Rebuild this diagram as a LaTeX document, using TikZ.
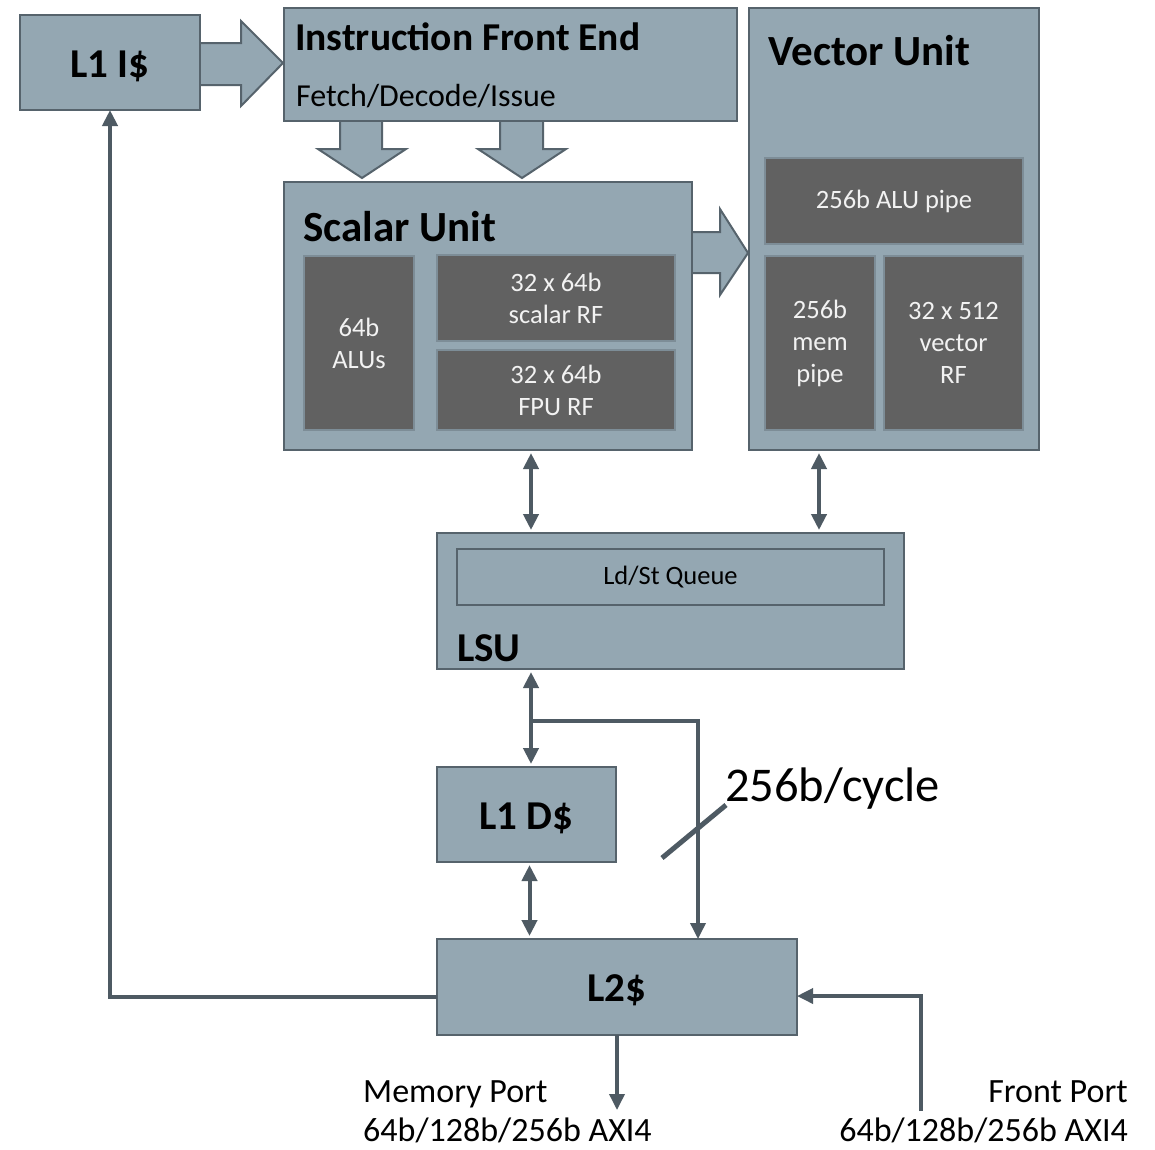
\documentclass[tikz,border=0pt]{standalone}
\usepackage{fontspec}
\setmainfont{Carlito}
\usetikzlibrary{arrows.meta,calc}
\definecolor{boxfill}{HTML}{94A7B2}
\definecolor{boxline}{HTML}{56636C}
\definecolor{darkfill}{HTML}{616161}
\definecolor{darkline}{HTML}{7D8D97}
\definecolor{wire}{HTML}{4E5A63}
\definecolor{lighttext}{HTML}{F2F2F2}
\begin{document}
\begin{tikzpicture}[x=1pt,y=-1pt,
  box/.style={draw=boxline, fill=boxfill, line width=2pt, inner sep=0pt, outer sep=0pt, anchor=north west},
  dbox/.style={draw=darkline, fill=darkfill, line width=2pt, inner sep=0pt, outer sep=0pt, anchor=north west, text=lighttext, align=center, font=\fontsize{26.5}{32}\selectfont},
  boldlbl/.style={font=\fontsize{41}{48}\selectfont\bfseries},
  title/.style={inner sep=0pt, anchor=base west, font=\fontsize{43}{50}\selectfont\bfseries},
  plain/.style={inner sep=0pt, font=\fontsize{34}{40}\selectfont},
  barrow/.style={draw=boxline, fill=boxfill, line width=2pt, line join=miter},
  wirearrow/.style={draw=wire, line width=4pt, -{Triangle[length=16pt,width=15pt]}},
  dbl/.style={draw=wire, line width=4pt, {Triangle[length=16pt,width=15pt]}-{Triangle[length=16pt,width=15pt]}, shorten <=3pt, shorten >=3pt},
]
\useasboundingbox (0,0) rectangle (1155,1149);
\fill[white] (0,0) rectangle (1155,1149);

% block arrows (drawn first, boxes overlap their bases)
\draw[barrow] (198,43) -- (241,43) -- (241,21) -- (283,63) -- (241,106) -- (241,85) -- (198,85) -- cycle;
\draw[barrow] (340,119) -- (340,149) -- (318,149) -- (362,178) -- (406,149) -- (382,149) -- (382,119) -- cycle;
\draw[barrow] (500,119) -- (500,149) -- (478,149) -- (522,178) -- (566,149) -- (543,149) -- (543,119) -- cycle;
\draw[barrow] (690,232) -- (720,232) -- (720,209) -- (748,253) -- (720,295) -- (720,273) -- (690,273) -- cycle;

% main boxes
\node[box, boldlbl, minimum width=180pt, minimum height=95pt, text height=29pt, text depth=0pt] (l1i) at (20,15) {L1 I\$};
\node[box, minimum width=453pt, minimum height=113pt] (ife) at (284,8) {};
\node[box, minimum width=290pt, minimum height=442pt] (vec) at (749,8) {};
\node[box, minimum width=408pt, minimum height=268pt] (sca) at (284,182) {};

\node[title, font=\fontsize{39.5}{46}\selectfont\bfseries] (ifeT) at (295,50) {Instruction Front End};
\node[plain, anchor=base west, font=\fontsize{32}{38}\selectfont] (ifeS) at (296,106) {Fetch/Decode/Issue};
\node[title] (vecT) at (768,65) {Vector Unit};
\node[title] (scaT) at (303,241) {Scalar Unit};

% inner dark boxes
\node[dbox, minimum width=258pt, minimum height=86pt] (alu256) at (765,158) {256b ALU pipe};
\node[dbox, minimum width=110pt, minimum height=174pt] (mem256) at (765,256) {256b\\mem\\pipe};
\node[dbox, minimum width=139pt, minimum height=174pt] (vrf) at (884,256) {32 x 512\\vector\\RF};
\node[dbox, minimum width=110pt, minimum height=174pt] (alu64) at (304,256) {64b\\ALUs};
\node[dbox, minimum width=238pt, minimum height=86pt] (srf) at (437,255) {32 x 64b\\scalar RF};
\node[dbox, minimum width=238pt, minimum height=80pt] (frf) at (437,350) {32 x 64b\\FPU RF};

% LSU
\node[box, minimum width=467pt, minimum height=136pt] (lsu) at (437,533) {};
\node[box, minimum width=427pt, minimum height=56pt, font=\fontsize{26.5}{32}\selectfont] (ldst) at (457,549) {Ld/St Queue};
\node[title, font=\fontsize{41}{48}\selectfont\bfseries] (lsuT) at (457,661) {LSU};

% caches
\node[box, boldlbl, minimum width=179pt, minimum height=95pt, text height=29pt, text depth=0pt] (l1d) at (437,767) {L1 D\$};
\node[box, boldlbl, minimum width=360pt, minimum height=96pt, text height=29pt, text depth=0pt] (l2) at (437,939) {L2\$};

% helper coordinates
\coordinate (cx1) at (531,0);
\coordinate (cx2) at (819,0);
\coordinate (cx3) at (698,0);
\coordinate (br) at (531,721);
\coordinate (fby) at (0,997);
\coordinate (fpy) at (0,996);
\coordinate (mp) at (617,1110);
\coordinate (fp) at (921,1111);

% connectors
\draw[dbl] (sca.south -| cx1) -- (lsu.north -| cx1);
\draw[dbl] (vec.south -| cx2) -- (lsu.north -| cx2);
\draw[dbl] (lsu.south -| cx1) -- (l1d.north -| cx1);
\draw[dbl] ($(l1d.south)+(3,0)$) -- ($(l2.north -| l1d.south)+(3,0)$);
\draw[wirearrow, line width=3.5pt] (br) -| (l2.north -| cx3);
\draw[wirearrow] (l2.west |- fby) -| (l1i.south);
\draw[wirearrow, line width=3.5pt] (l2.south) -- (mp);
\draw[wirearrow, line width=3.5pt] (fp) |- (l2.east |- fpy);

% bus-width slash and labels
\draw[wire, line width=5pt] (662,858) -- (726,805);
\node[plain, anchor=west, font=\fontsize{48.5}{56}\selectfont] (cyc) at (725,789) {256b/cycle};
\node[plain, anchor=base west] (mpT) at (363,1102) {Memory Port};
\node[plain, anchor=base west] (mpS) at (363,1141) {64b/128b/256b AXI4};
\node[plain, anchor=base east] (fpT) at (1128,1102) {Front Port};
\node[plain, anchor=base east] (fpS) at (1128,1141) {64b/128b/256b AXI4};
\end{tikzpicture}
\end{document}
